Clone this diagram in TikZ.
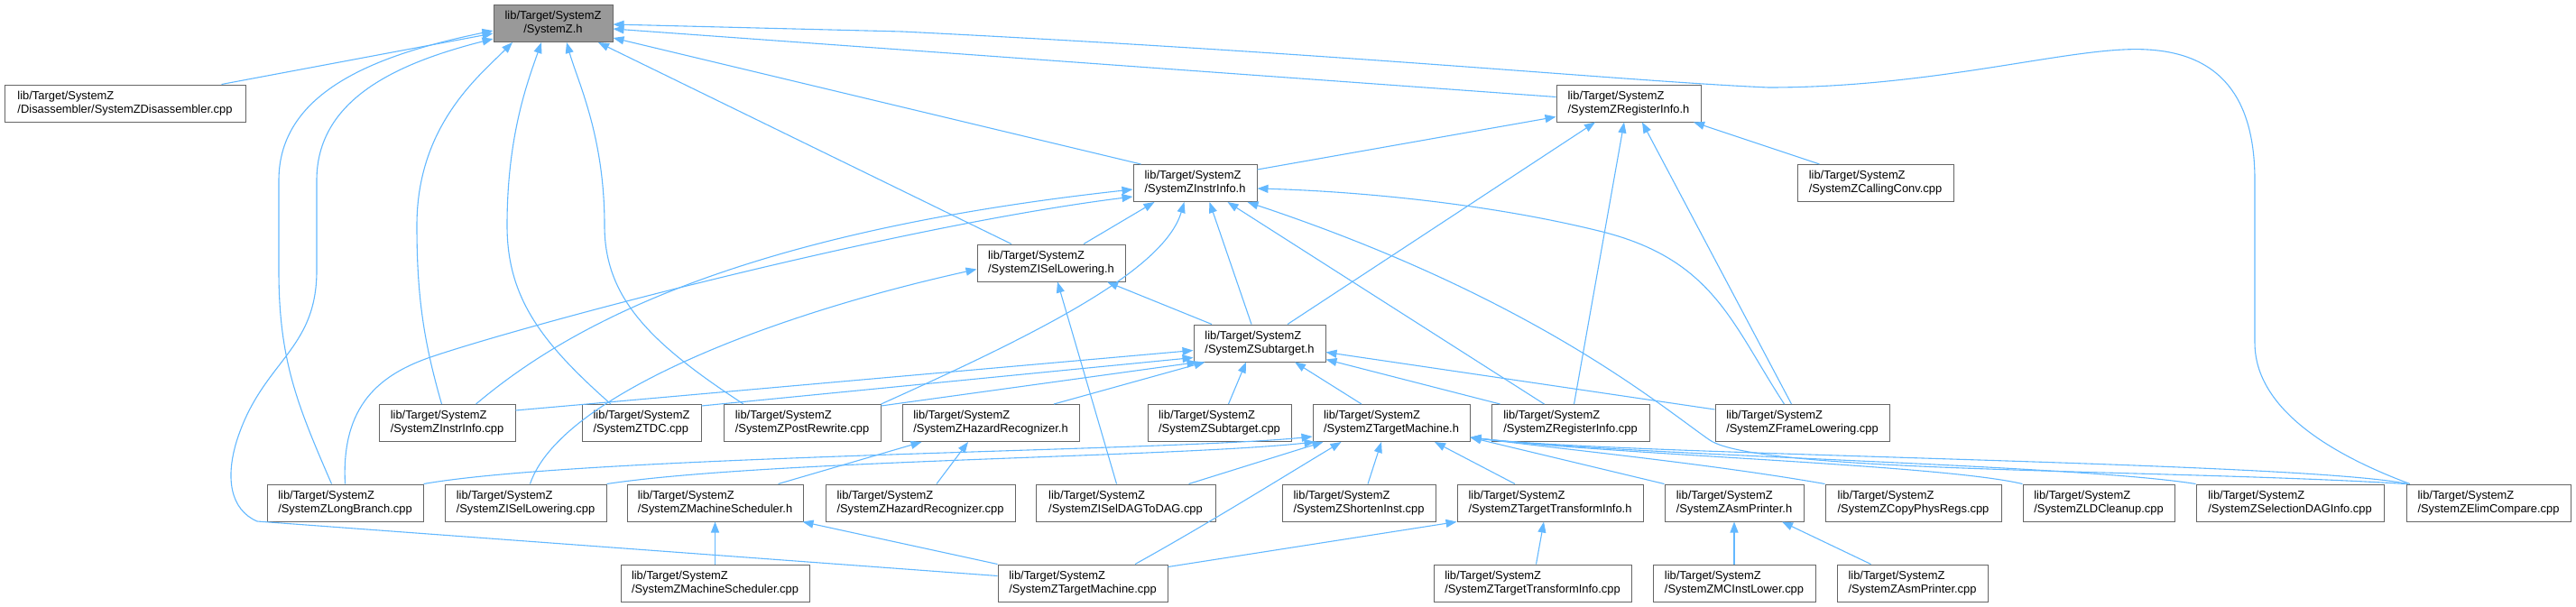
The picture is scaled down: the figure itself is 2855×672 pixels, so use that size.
\documentclass[tikz,border=0pt]{standalone}
\usepackage{fontspec}
\setmainfont{Liberation Sans}
\usetikzlibrary{arrows.meta,positioning}
\definecolor{edgeblue}{HTML}{63B8FF}
\definecolor{boxline}{HTML}{666666}
\definecolor{rootfill}{HTML}{999999}

\begin{document}
\begin{tikzpicture}[x=1pt,y=1pt,
  file/.style={draw=boxline,line width=1pt,fill=white,minimum height=41pt,
    inner xsep=3pt,align=left,font=\fontsize{12.9}{15}\selectfont},
  root/.style={file,fill=rootfill,align=center},
  dep/.style={edgeblue,line width=1.1pt,-{Triangle[length=12pt,width=9pt]}}]
  \useasboundingbox (0,0) rectangle (2855,-672);

  % header at the top
  \node[root,minimum width=132] (sysz) at (613,-26) {lib/Target/SystemZ\\/SystemZ.h};

  % second and third rows
  \node[file,minimum width=267] (disasm) at (138.5,-114.5) {lib/Target/SystemZ\\/Disassembler/SystemZDisassembler.cpp};
  \node[file,minimum width=160] (reginfoh) at (1805,-114.5) {lib/Target/SystemZ\\/SystemZRegisterInfo.h};
  \node[file,minimum width=137] (instrinfoh) at (1324.5,-203) {lib/Target/SystemZ\\/SystemZInstrInfo.h};
  \node[file,minimum width=173] (callconv) at (2078.5,-203) {lib/Target/SystemZ\\/SystemZCallingConv.cpp};
  \node[file,minimum width=164] (isellowh) at (1165,-291.5) {lib/Target/SystemZ\\/SystemZISelLowering.h};
  \node[file,minimum width=146] (subtargeth) at (1396,-380.5) {lib/Target/SystemZ\\/SystemZSubtarget.h};

  % row under the subtarget
  \node[file,minimum width=151] (instrinfocpp) at (495.5,-469) {lib/Target/SystemZ\\/SystemZInstrInfo.cpp};
  \node[file,minimum width=132] (tdc) at (711,-469) {lib/Target/SystemZ\\/SystemZTDC.cpp};
  \node[file,minimum width=174] (postrw) at (889,-469) {lib/Target/SystemZ\\/SystemZPostRewrite.cpp};
  \node[file,minimum width=196] (hazardh) at (1098,-469) {lib/Target/SystemZ\\/SystemZHazardRecognizer.h};
  \node[file,minimum width=159] (subtargetcpp) at (1351.5,-469) {lib/Target/SystemZ\\/SystemZSubtarget.cpp};
  \node[file,minimum width=174] (tmh) at (1542,-469) {lib/Target/SystemZ\\/SystemZTargetMachine.h};
  \node[file,minimum width=175] (reginfocpp) at (1740.5,-469) {lib/Target/SystemZ\\/SystemZRegisterInfo.cpp};
  \node[file,minimum width=193] (framelow) at (1997.5,-469) {lib/Target/SystemZ\\/SystemZFrameLowering.cpp};

  % row under the target machine
  \node[file,minimum width=173] (longbr) at (382.5,-557.5) {lib/Target/SystemZ\\/SystemZLongBranch.cpp};
  \node[file,minimum width=179] (isellowcpp) at (582.5,-557.5) {lib/Target/SystemZ\\/SystemZISelLowering.cpp};
  \node[file,minimum width=195] (mschedh) at (792.5,-557.5) {lib/Target/SystemZ\\/SystemZMachineScheduler.h};
  \node[file,minimum width=210] (hazardcpp) at (1020,-557.5) {lib/Target/SystemZ\\/SystemZHazardRecognizer.cpp};
  \node[file,minimum width=199] (iseldag) at (1247.5,-557.5) {lib/Target/SystemZ\\/SystemZISelDAGToDAG.cpp};
  \node[file,minimum width=170] (shorten) at (1506,-557.5) {lib/Target/SystemZ\\/SystemZShortenInst.cpp};
  \node[file,minimum width=206] (ttih) at (1718,-557.5) {lib/Target/SystemZ\\/SystemZTargetTransformInfo.h};
  \node[file,minimum width=154] (asmprh) at (1922,-557.5) {lib/Target/SystemZ\\/SystemZAsmPrinter.h};
  \node[file,minimum width=195] (copyphys) at (2120.5,-557.5) {lib/Target/SystemZ\\/SystemZCopyPhysRegs.cpp};
  \node[file,minimum width=168] (ldclean) at (2326,-557.5) {lib/Target/SystemZ\\/SystemZLDCleanup.cpp};
  \node[file,minimum width=208] (seldag) at (2538,-557.5) {lib/Target/SystemZ\\/SystemZSelectionDAGInfo.cpp};
  \node[file,minimum width=182] (elimcmp) at (2758,-557.5) {lib/Target/SystemZ\\/SystemZElimCompare.cpp};

  % bottom row
  \node[file,minimum width=209] (mschedcpp) at (792.5,-646.5) {lib/Target/SystemZ\\/SystemZMachineScheduler.cpp};
  \node[file,minimum width=188] (tmcpp) at (1200,-646.5) {lib/Target/SystemZ\\/SystemZTargetMachine.cpp};
  \node[file,minimum width=219] (tticpp) at (1698.5,-646.5) {lib/Target/SystemZ\\/SystemZTargetTransformInfo.cpp};
  \node[file,minimum width=180] (mcinst) at (1922,-646.5) {lib/Target/SystemZ\\/SystemZMCInstLower.cpp};
  \node[file,minimum width=167] (asmprcpp) at (2119.5,-646.5) {lib/Target/SystemZ\\/SystemZAsmPrinter.cpp};

  % includes of SystemZ.h
  \draw[dep] ([xshift=107]disasm.north) -- ([yshift=-11]sysz.west);
  \draw[dep] ([xshift=-15]longbr.north) .. controls (330,-450) and (309,-400) .. (309,-300)
    -- (309,-200) .. controls (309,-100) and (420,-60) .. ([yshift=-8]sysz.west);
  \draw[dep] ([yshift=8]tmcpp.west) -- (285,-578) .. controls (255,-565) and (250,-530) .. (262,-490)
    .. controls (290,-400) and (351,-390) .. (351,-300) -- (351,-200)
    .. controls (351,-110) and (440,-70) .. ([yshift=-17]sysz.west);
  \draw[dep] ([xshift=-6]instrinfocpp.north) .. controls (470,-380) and (462,-330) .. (462,-250)
    .. controls (462,-140) and (530,-85) .. ([xshift=-45]sysz.south);
  \draw[dep] ([xshift=-34]tdc.north) .. controls (600,-380) and (562,-330) .. (562,-250)
    .. controls (562,-150) and (585,-90) .. ([xshift=-13]sysz.south);
  \draw[dep] ([xshift=-65]postrw.north) .. controls (720,-380) and (670,-330) .. (670,-250)
    .. controls (670,-150) and (640,-90) .. ([xshift=15]sysz.south);
  \draw[dep] ([xshift=-44]isellowh.north) -- ([xshift=50]sysz.south);
  \draw[dep] ([xshift=-60]instrinfoh.north) -- ([yshift=-16]sysz.east);
  \draw[dep] ([yshift=7]reginfoh.west) -- ([yshift=-6]sysz.east);
  \draw[dep] ([xshift=-87]elimcmp.north) .. controls (2600,-510) and (2499,-460) .. (2499,-380)
    -- (2499,-200) .. controls (2499,-120) and (2470,-60) .. (2380,-55)
    .. controls (2300,-50) and (2150,-97) .. (1960,-97)
    .. controls (1800,-90) and (1500,-60) .. (1000,-35) -- ([yshift=-1]sysz.east);

  % includes of SystemZRegisterInfo.h
  \draw[dep] ([yshift=15]instrinfoh.east) -- ([yshift=-15]reginfoh.west);
  \draw[dep] ([xshift=31]subtargeth.north) -- ([xshift=-37]reginfoh.south);
  \draw[dep] ([xshift=4]reginfocpp.north) -- ([xshift=-5]reginfoh.south);
  \draw[dep] ([xshift=-12]framelow.north) -- ([xshift=15]reginfoh.south);
  \draw[dep] ([xshift=-62]callconv.north) -- ([xshift=72]reginfoh.south);

  % includes of SystemZInstrInfo.h
  \draw[dep] ([xshift=32]instrinfocpp.north) .. controls (620,-370) and (800,-260) .. ([yshift=-7]instrinfoh.west);
  \draw[dep] (longbr.north) .. controls (378,-450) and (420,-415) .. (480,-395)
    .. controls (600,-355) and (1000,-250) .. ([yshift=-15]instrinfoh.west);
  \draw[dep] ([xshift=36]isellowh.north) -- ([xshift=-45]instrinfoh.south);
  \draw[dep] (postrw.north east) .. controls (1150,-370) and (1290,-300) .. ([xshift=-12]instrinfoh.south);
  \draw[dep] ([xshift=-9]subtargeth.north) -- ([xshift=16]instrinfoh.south);
  \draw[dep] ([xshift=-29]reginfocpp.north) -- ([xshift=36]instrinfoh.south);
  \draw[dep] (elimcmp.north west) .. controls (2400,-520) and (1950,-525) .. (1895,-488)
    .. controls (1840,-450) and (1700,-330) .. ([xshift=58]instrinfoh.south);
  \draw[dep] ([xshift=-20]framelow.north) .. controls (1920,-360) and (1900,-290) .. (1780,-258)
    .. controls (1650,-225) and (1500,-212) .. ([yshift=-6]instrinfoh.east);

  % includes of SystemZISelLowering.h
  \draw[dep] ([xshift=5]isellowcpp.north) .. controls (620,-440) and (850,-350) .. ([yshift=-7]isellowh.west);
  \draw[dep] ([xshift=-10]iseldag.north) -- ([xshift=7]isellowh.south);
  \draw[dep] ([xshift=-53]subtargeth.north) -- ([xshift=62]isellowh.south);

  % includes of SystemZSubtarget.h
  \draw[dep] ([yshift=14]instrinfocpp.east) -- ([yshift=-8]subtargeth.west);
  \draw[dep] ([yshift=19]tdc.east) -- ([yshift=-16]subtargeth.west);
  \draw[dep] ([yshift=19]postrw.east) -- ([xshift=5]subtargeth.south west);
  \draw[dep] ([xshift=70]hazardh.north) -- ([xshift=13]subtargeth.south west);
  \draw[dep] ([xshift=10]subtargetcpp.north) -- ([xshift=-15]subtargeth.south);
  \draw[dep] ([xshift=-33]tmh.north) -- ([xshift=39]subtargeth.south);
  \draw[dep] ([xshift=-78]reginfocpp.north) -- ([yshift=-18]subtargeth.east);
  \draw[dep] ([yshift=15]framelow.west) -- ([yshift=-10]subtargeth.east);

  % includes of SystemZTargetMachine.h
  \draw[dep] (longbr.north east) .. controls (650,-505) and (1300,-500) .. ([yshift=-15]tmh.west);
  \draw[dep] (isellowcpp.north east) .. controls (850,-510) and (1300,-507) .. ([xshift=3]tmh.south west);
  \draw[dep] ([xshift=70]iseldag.north) -- ([xshift=12]tmh.south west);
  \draw[dep] ([xshift=58]tmcpp.north) .. controls (1340,-580) and (1420,-530) .. ([xshift=32]tmh.south west);
  \draw[dep] ([xshift=10]shorten.north) -- ([xshift=-11]tmh.south);
  \draw[dep] ([xshift=-39]ttih.north) -- ([xshift=48]tmh.south);
  \draw[dep] (asmprh.north west) -- ([yshift=-16]tmh.east);
  \draw[dep] (copyphys.north west) .. controls (1900,-515) and (1750,-500) .. ([yshift=-16]tmh.east);
  \draw[dep] (ldclean.north west) .. controls (2150,-515) and (1800,-505) .. ([yshift=-16]tmh.east);
  \draw[dep] (seldag.north west) .. controls (2300,-515) and (1800,-505) .. ([yshift=-16]tmh.east);
  \draw[dep] ([xshift=2]elimcmp.north west) .. controls (2550,-512) and (1800,-505) .. ([yshift=-16]tmh.east);

  % the remaining small groups
  \draw[dep] ([xshift=70]mschedh.north) -- ([xshift=22]hazardh.south west);
  \draw[dep] ([xshift=18]hazardcpp.north) -- ([xshift=-25]hazardh.south);
  \draw[dep] (mschedcpp.north) -- (mschedh.south);
  \draw[dep] (tmcpp.north west) -- ([xshift=-1]mschedh.south east);
  \draw[dep] ([yshift=-3]tmcpp.north east) -- (ttih.south west);
  \draw[dep] ([xshift=4]tticpp.north) -- ([xshift=-7]ttih.south);
  \draw[dep] (mcinst.north) -- (asmprh.south);
  \draw[dep] ([xshift=-46]asmprcpp.north) -- ([xshift=53]asmprh.south);
\end{tikzpicture}
\end{document}
